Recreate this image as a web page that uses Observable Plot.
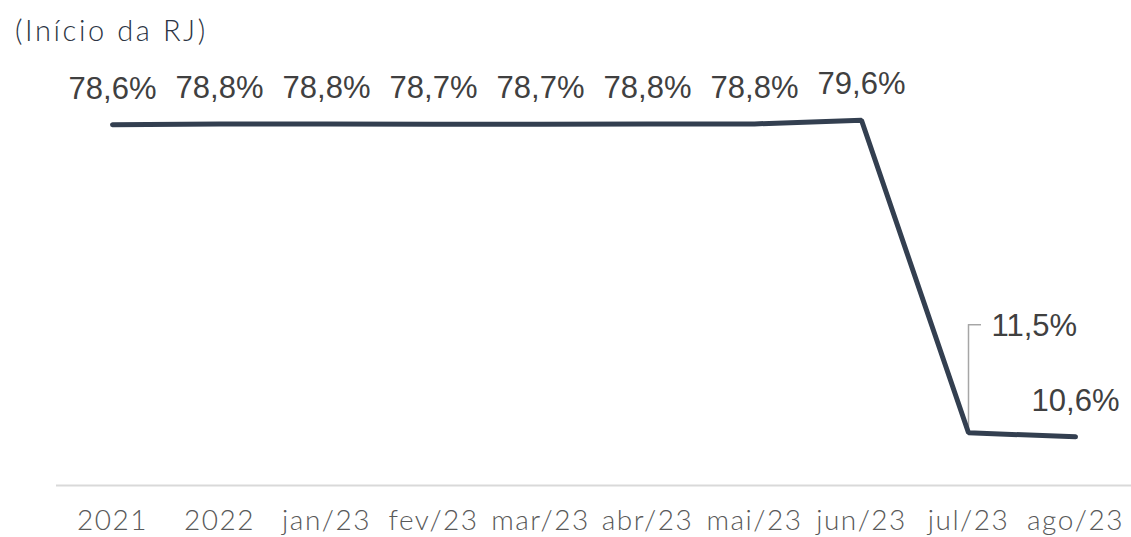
<!DOCTYPE html>
<html>
<head>
<meta charset="utf-8">
<script src="https://cdn.jsdelivr.net/npm/d3@7"></script>
<script src="https://cdn.jsdelivr.net/npm/@observablehq/plot@0.6"></script>
<style>
  html, body { margin: 0; padding: 0; background: #fff; }
  #title { font-family: Lato, "Open Sans", sans-serif; font-weight: 300; font-size: 29px; letter-spacing: 2.6px; color: #2b3444;
           height: 55px; line-height: 60px; padding-left: 15px; box-sizing: border-box; white-space: nowrap; }
  #chart svg { display: block; }
</style>
</head>
<body>
<div id="title">(Início da RJ)</div>
<div id="chart"></div>
<script>
const categories = ["2021", "2022", "jan/23", "fev/23", "mar/23", "abr/23", "mai/23", "jun/23", "jul/23", "ago/23"];
const values = [78.6, 78.8, 78.8, 78.7, 78.7, 78.8, 78.8, 79.6, 11.5, 10.6];
const labels = ["78,6%", "78,8%", "78,8%", "78,7%", "78,7%", "78,8%", "78,8%", "79,6%", "11,5%", "10,6%"];

const data = categories.map((c, i) => ({cat: c, v: values[i], label: labels[i]}));
const leaderIdx = 8; // jul/23 label uses a leader line
const normal = data.filter((d, i) => i !== leaderIdx);
const leader = [data[leaderIdx]];

const chart = Plot.plot({
  width: 1131,
  height: 482,
  marginLeft: 109,
  marginRight: 54,
  marginTop: 17,
  marginBottom: 52,
  style: {fontFamily: "Lato, 'Open Sans', sans-serif"},
  x: {type: "point", domain: categories, padding: 0, label: null},
  y: {domain: [0, 90], axis: null},
  marks: [
    Plot.ruleY([0], {stroke: "#d9d9d9", strokeWidth: 2, insetLeft: -53, insetRight: -54}),
    Plot.axisX({tickSize: 0, tickPadding: 25, fontSize: 28, fill: "#595959", fontWeight: 300,
      fontFamily: "Lato, 'Open Sans', sans-serif", label: null,
      render(index, scales, values, dimensions, context, next) {
        const g = next(index, scales, values, dimensions, context);
        g.setAttribute("letter-spacing", "1.5px");
        return g;
      }}),
    Plot.ruleX(leader, {x: "cat", y1: "v", y2: "v", insetTop: -108, stroke: "#a6a6a6", strokeWidth: 1.5}),
    Plot.ruleY(leader, {y: "v", x1: "cat", x2: "cat", dy: -108, insetRight: -13, stroke: "#a6a6a6", strokeWidth: 1.5}),
    Plot.line(data, {x: "cat", y: "v", stroke: "#333f50", strokeWidth: 5, strokeLinecap: "round", strokeLinejoin: "miter"}),
    Plot.text(normal, {x: "cat", y: "v", text: "label", dy: -26, lineAnchor: "bottom",
      fontSize: 31, fill: "#404040", fontFamily: "'Liberation Sans', Arial, sans-serif"}),
    Plot.text(leader, {x: "cat", y: "v", text: "label", dx: 23, dy: -97, lineAnchor: "bottom", textAnchor: "start",
      fontSize: 31, fill: "#404040", fontFamily: "'Liberation Sans', Arial, sans-serif"})
  ]
});
document.getElementById("chart").appendChild(chart);
</script>
</body>
</html>
